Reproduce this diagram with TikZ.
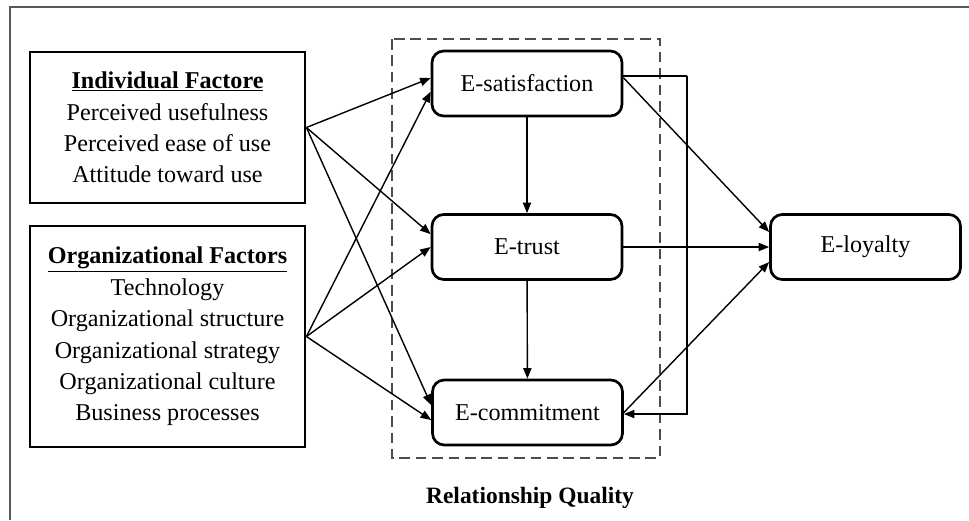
\documentclass[tikz,border=0pt]{standalone}
\usepackage{fontspec}
\setmainfont{Liberation Serif}
\usetikzlibrary{arrows.meta}
\begin{document}
\begin{tikzpicture}[x=0.03cm,y=-0.03cm,
  font=\fontsize{20.6}{26.8}\selectfont,
  factorbox/.style={draw,line width=2.4pt,align=center,minimum width=8.25cm,inner sep=0pt},
  qualbox/.style={draw,line width=2.3pt,rounded corners=10pt,minimum width=5.7cm,minimum height=1.95cm},
  link/.style={line width=1.2pt,-{Triangle[length=9pt,width=7pt]}}]
\useasboundingbox (0,0) rectangle (969,520);
\draw[gray!70!black,line width=1.2pt] (10,520)--(10,7)--(969,7);
% left factor boxes
\node[factorbox,minimum height=4.53cm] (ind) at (167.5,127.5)
  {\textbf{\underline{Individual Factore}}\\Perceived usefulness\\Perceived ease of use\\Attitude toward use};
\node[factorbox,minimum height=6.63cm] (org) at (167.5,336.5)
  {\textbf{\underline{Organizational Factors}}\\Technology\\Organizational structure\\Organizational strategy\\Organizational culture\\Business processes};
% relationship quality
\draw[dashed,gray!60!black,line width=1.2pt,dash pattern=on 9pt off 5pt] (392,39) rectangle (660,458);
\node[qualbox] (sat) at (527,83.5) {E-satisfaction};
\node[qualbox] (trust) at (527,247) {E-trust};
\node[qualbox] (com) at (527.5,412.5) {E-commitment};
\node[qualbox] (loy) at (865.5,247) {E-loyalty};
\node[font=\fontsize{20}{22}\selectfont\bfseries] (rq) at (530,498) {Relationship Quality};
% arrows from factors
\draw[link] (ind.east)--([yshift=4.7pt]sat.west);
\draw[link] (ind.east)--([yshift=11pt]trust.west);
\draw[link] (ind.east)--([yshift=6.4pt]com.west);
\draw[link] (org.east)--([yshift=-7pt]sat.west);
\draw[link] (org.east)--([yshift=0pt]trust.west);
\draw[link] (org.east)--([yshift=-6.4pt]com.west);
% inside the quality box
\draw[link] (sat)--(trust);
\draw[link] (trust)--(com);
\draw[link] ([yshift=5pt]sat.east)--([yshift=12.8pt]loy.west);
\draw[link] (trust)--(loy);
\draw[link] (com.east)--([yshift=-12.8pt]loy.west);
\coordinate (bend) at (687,76);
\draw[link] ([yshift=6.4pt]sat.east)-|(bend)|-([yshift=-1.3pt]com.east);
\end{tikzpicture}
\end{document}
